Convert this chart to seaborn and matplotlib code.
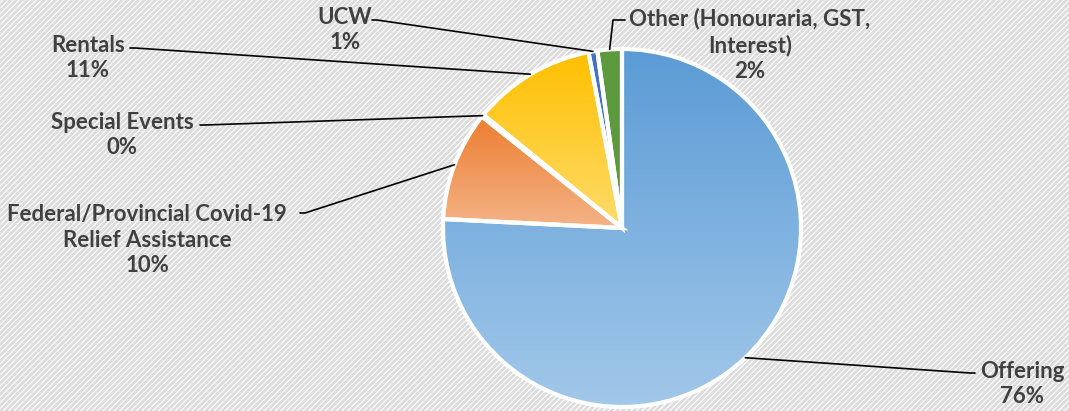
import numpy as np
import matplotlib
matplotlib.use('Agg')
import matplotlib.pyplot as plt
from matplotlib.colors import to_rgb
from matplotlib.patches import Rectangle
import seaborn as sns

# dados do gráfico (fatias no sentido horário a partir do topo)
categorias = ['Offering', 'Federal/Provincial Covid-19\nRelief Assistance', 'Special Events',
              'Rentals', 'UCW', 'Other (Honouraria, GST,\nInterest)']
valores = [75.8, 9.9, 0.2, 11.1, 0.8, 2.2]
rotulos_pct = ['76%', '10%', '0%', '11%', '1%', '2%']

cor_topo = ['#5B9BD5', '#ED7D31', '#A5A5A5', '#FFC000', '#4472C4', '#5D9A3E']
cor_base = ['#A2C8EA', '#F4B488', '#C9C9C9', '#FFDB6B', '#4472C4', '#5D9A3E']

# posição dos rótulos (pixels) e ponto de saída da linha guia
pos_rotulo = [(1022, 384), (147, 240), (122, 135), (88, 58), (345, 30), (750, 45)]
saida_linha = [(975, 373), (300, 213), (200, 125), (130, 48), (372, 20), (625, 20)]

sns.set_theme(style='white')
plt.rcParams['font.family'] = ['Lato', 'DejaVu Sans']
plt.rcParams['hatch.linewidth'] = 2.0
plt.rcParams['hatch.color'] = '#DCDCDC'

W, H = 1069, 411
fig = plt.figure(figsize=(W / 100, H / 100), dpi=100)
ax = fig.add_axes([0, 0, 1, 1])
ax.set_xlim(0, W)
ax.set_ylim(0, H)
ax.axis('off')

# fundo listrado
ax.add_patch(Rectangle((0, 0), W, H, facecolor='white', edgecolor='#DCDCDC',
                       hatch='//////', linewidth=0, zorder=0))

centro = (622, H - 228)
raio = 179

wedges, _ = ax.pie(valores, colors=cor_topo, startangle=90, counterclock=False,
                   center=centro, radius=raio, frame=True,
                   wedgeprops={'linewidth': 0})

# gradiente vertical em cada fatia
for w, c1, c2 in zip(wedges, cor_topo, cor_base):
    w.set_zorder(1)
    bb = w.get_path().get_extents()
    t = np.linspace(0, 1, 256)[:, None, None]
    grad = (1 - t) * np.array(to_rgb(c1)) + t * np.array(to_rgb(c2))
    im = ax.imshow(grad, extent=[bb.x0, bb.x1, bb.y0, bb.y1], origin='upper',
                   aspect='auto', zorder=2, interpolation='bilinear')
    im.set_clip_path(w)

# bordas brancas
ax.pie(valores, startangle=90, counterclock=False, center=centro, radius=raio,
       frame=True, wedgeprops={'fill': False, 'edgecolor': 'white', 'linewidth': 3, 'zorder': 3})

ax.set_xlim(0, W)
ax.set_ylim(0, H)
ax.set_aspect('auto')
ax.axis('off')

# rótulos e linhas guia
for w, cat, pct, (lx, ly), (sx, sy) in zip(wedges, categorias, rotulos_pct, pos_rotulo, saida_linha):
    ang = np.deg2rad((w.theta1 + w.theta2) / 2)
    px = centro[0] + raio * np.cos(ang)
    py = centro[1] + raio * np.sin(ang)
    sy = H - sy
    if sx < centro[0]:
        xs, ys = [sx, sx + 5, px], [sy, sy, py]
    elif sx < px + 40:
        xs, ys = [sx, sx - 12, px], [sy, sy, py]
    else:
        xs, ys = [sx, sx - 5, px], [sy, sy, py]
    ax.plot(xs, ys, color='black', linewidth=1.2, zorder=4)
    ax.text(lx, H - ly, cat + '\n' + pct, ha='center', va='center', multialignment='center',
            fontsize=16, fontweight='bold', color='#404040', linespacing=1.27, zorder=5)

fig.savefig('out.png', dpi=100)
